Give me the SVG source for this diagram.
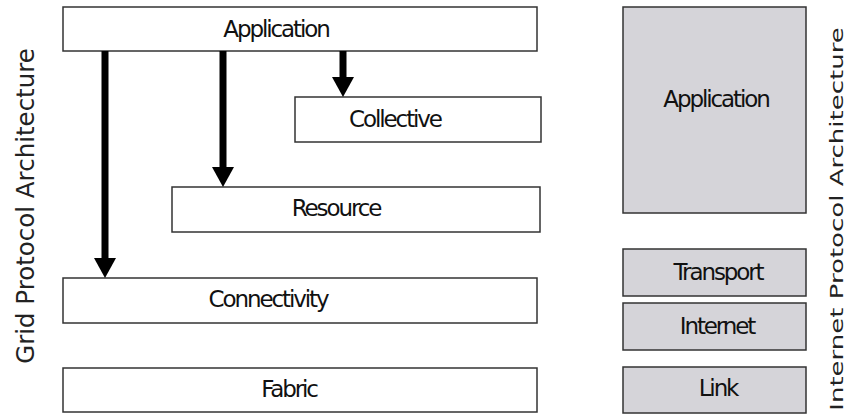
<svg xmlns="http://www.w3.org/2000/svg" width="846" height="414" viewBox="0 0 846 414">
<style>
.box{fill:#fff;stroke:#333;stroke-width:1.5}
.gbox{fill:#d5d4d9;stroke:#333;stroke-width:1.5}
.lbl{font-family:"DejaVu Sans",Verdana,sans-serif;font-size:23px;letter-spacing:-2.1px;fill:#111;text-anchor:middle}
.side{font-family:"DejaVu Sans",Verdana,sans-serif;fill:#222;text-anchor:middle}
.arr{stroke:#000;stroke-width:7;fill:none;marker-end:url(#head)}
</style>
<defs>
<marker id="head" viewBox="0 0 20 22" refX="0" refY="11" markerWidth="20" markerHeight="22" markerUnits="userSpaceOnUse" orient="auto">
<path d="M0,0 L20,11 L0,22 z" fill="#000"/>
</marker>
</defs>
<g id="grid-app"><rect class="box" x="63" y="7" width="474" height="44"/><text class="lbl" x="276" y="37">Application</text></g>
<g id="collective"><rect class="box" x="295" y="97" width="246" height="45"/><text class="lbl" x="395" y="127">Collective</text></g>
<g id="resource"><rect class="box" x="172" y="187" width="368" height="45"/><text class="lbl" x="336" y="216">Resource</text></g>
<g id="connectivity"><rect class="box" x="63" y="278" width="474" height="45"/><text class="lbl" x="268" y="307">Connectivity</text></g>
<g id="fabric"><rect class="box" x="63" y="368" width="474" height="44"/><text class="lbl" x="289" y="397">Fabric</text></g>
<g id="inet-app"><rect class="gbox" x="623" y="7" width="183" height="206"/><text class="lbl" x="716" y="107">Application</text></g>
<g id="transport"><rect class="gbox" x="623" y="249" width="183" height="47"/><text class="lbl" x="718" y="280">Transport</text></g>
<g id="internet"><rect class="gbox" x="623" y="303" width="183" height="47"/><text class="lbl" x="717" y="334">Internet</text></g>
<g id="link"><rect class="gbox" x="623" y="367" width="183" height="46"/><text class="lbl" x="718" y="396">Link</text></g>
<g id="grid-title"><text class="side" font-size="24.5" transform="translate(34,206) rotate(-90)">Grid Protocol Architecture</text></g>
<g id="inet-title"><text class="side" font-size="26" transform="translate(843,219) rotate(-90) scale(1,0.66)">Internet Protocol Architecture</text></g>
<g id="connectors">
<line class="arr" x1="105" y1="51" x2="105" y2="258"/>
<line class="arr" x1="223" y1="51" x2="223" y2="167"/>
<line class="arr" x1="343" y1="51" x2="343" y2="77"/>
</g>
</svg>
